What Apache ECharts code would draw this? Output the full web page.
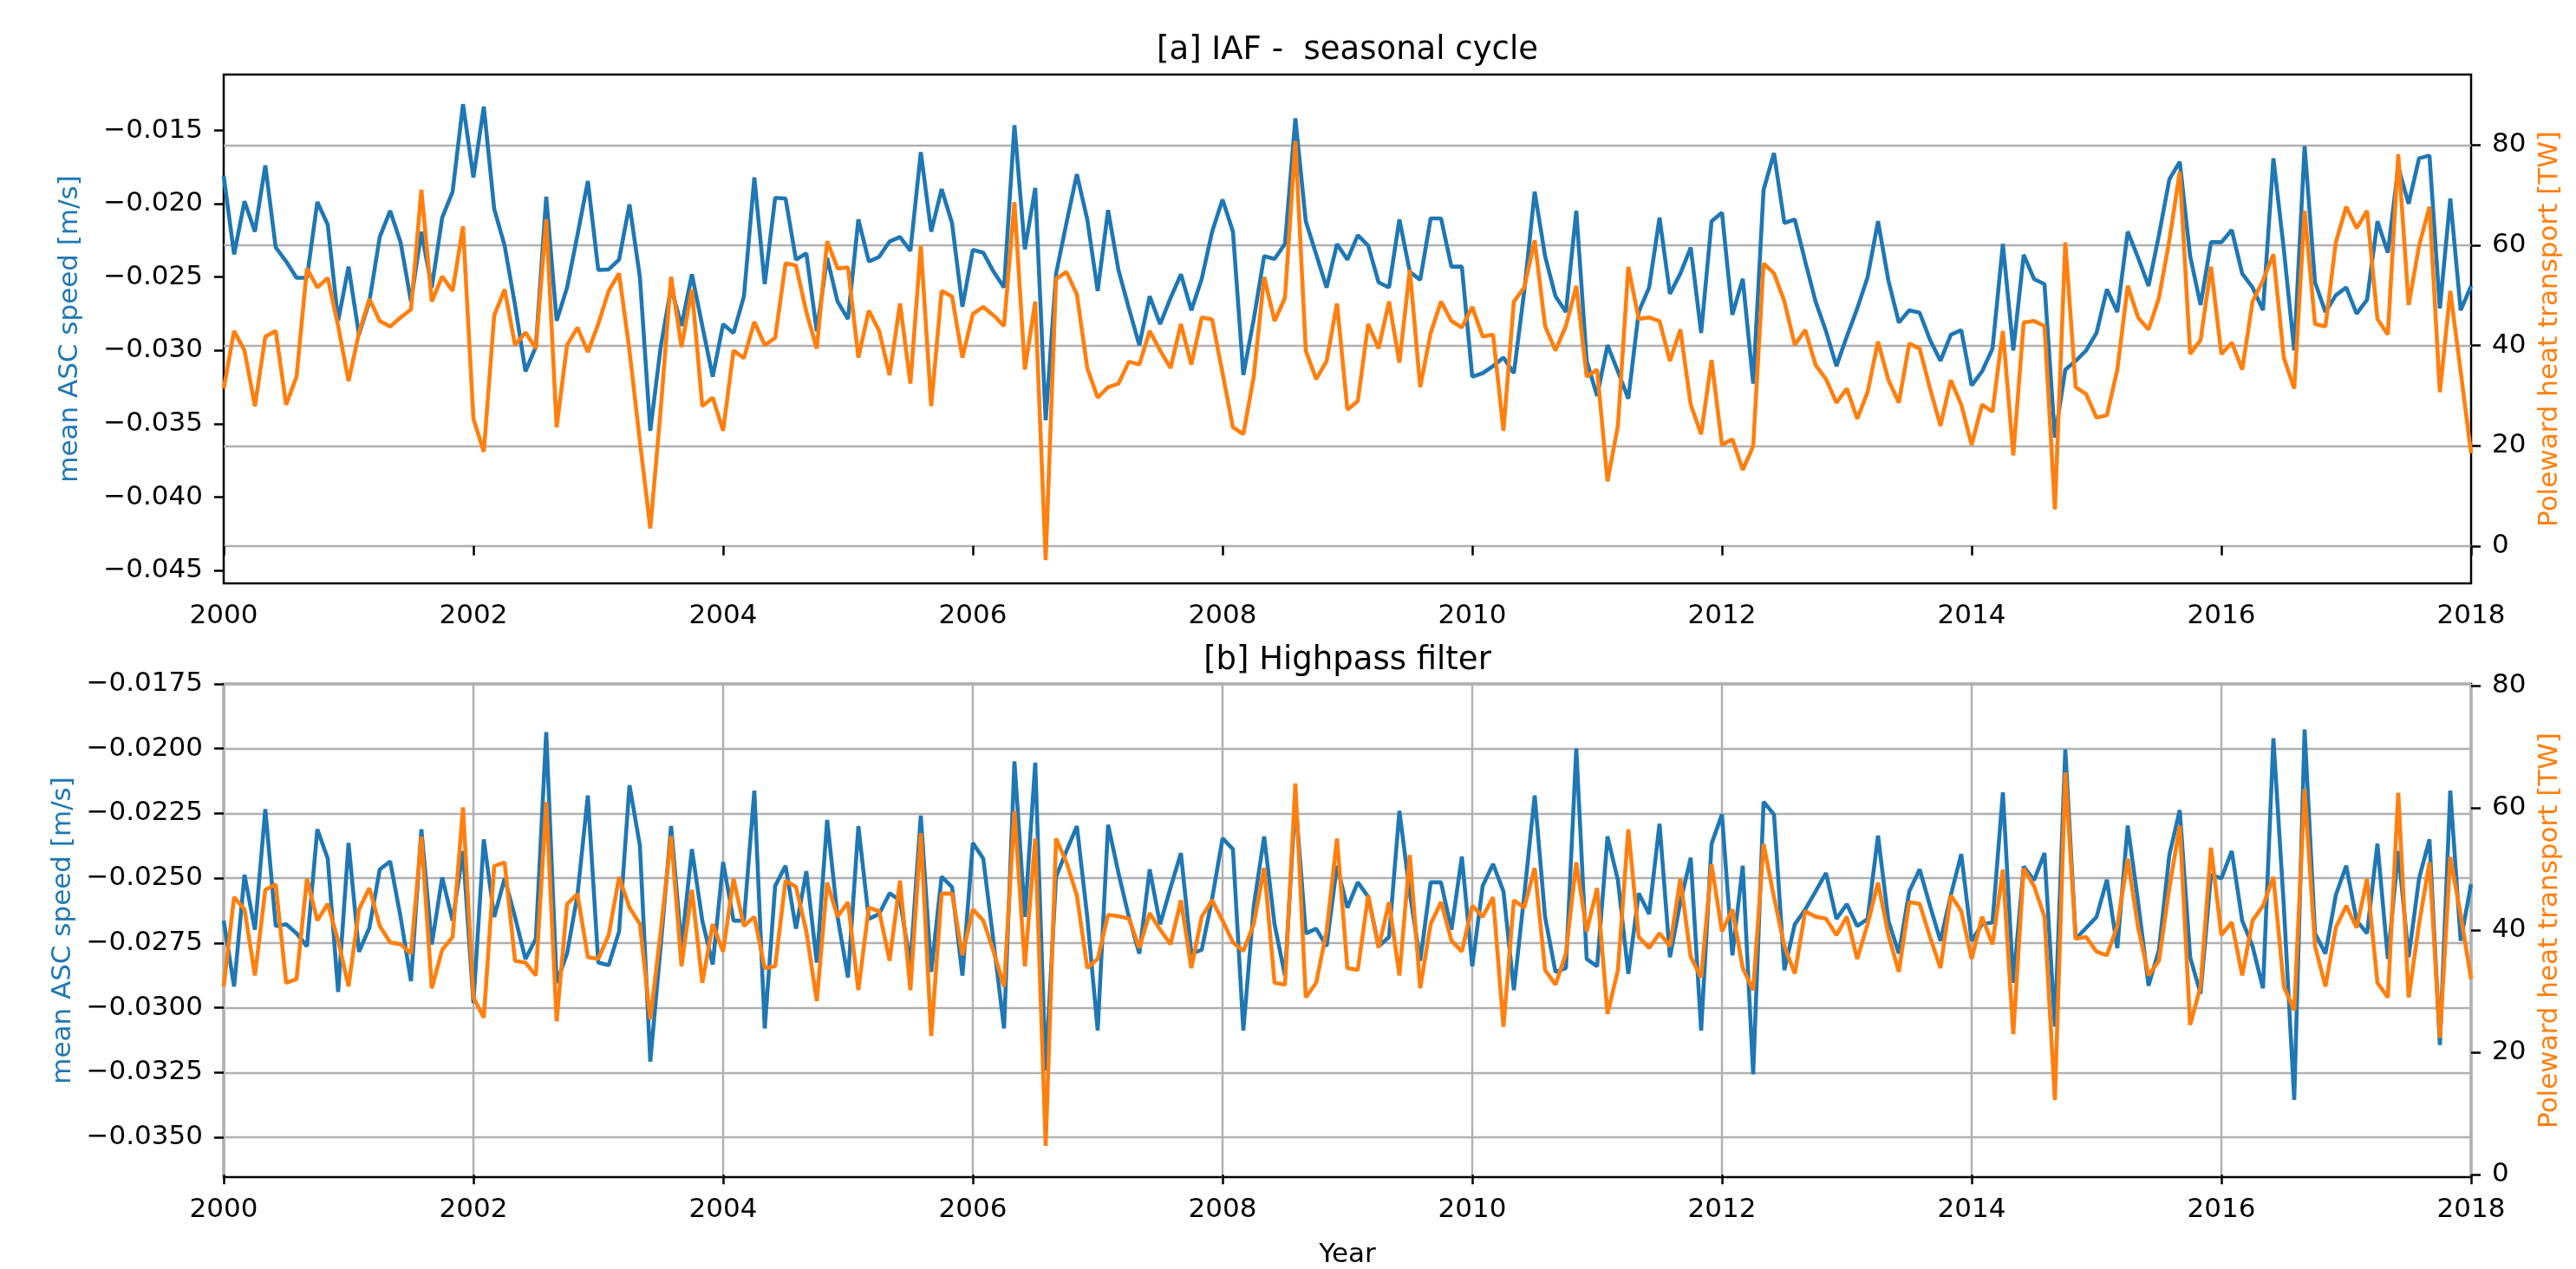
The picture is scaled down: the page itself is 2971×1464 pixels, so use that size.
<!DOCTYPE html>
<html>
<head>
<meta charset="utf-8">
<script src="https://cdn.jsdelivr.net/npm/echarts@6/dist/echarts.min.js"></script>
<style>
  html, body { margin: 0; padding: 0; background: #fff; }
  #chart { width: 2971px; height: 1464px; }
</style>
</head>
<body>
<div id="chart"></div>
<script>
// monthly samples, Jan 2000 .. Jan 2018
const years = Array.from({ length: 217 }, (_, i) => 2000 + i / 12)

// [a] IAF - seasonal cycle
const ascA = [
  -0.01810,-0.02345,-0.01983,-0.02190,-0.01738,-0.02298,-0.02393,-0.02505,-0.02505,-0.01988,
  -0.02143,-0.02798,-0.02429,-0.02893,-0.02667,-0.02226,-0.02048,-0.02262,-0.02667,-0.02190,
  -0.02571,-0.02095,-0.01917,-0.01321,-0.01821,-0.01338,-0.02036,-0.02286,-0.02690,-0.03143,
  -0.02976,-0.01952,-0.02798,-0.02571,-0.02214,-0.01845,-0.02452,-0.02448,-0.02381,-0.02005,
  -0.02500,-0.03548,-0.02976,-0.02571,-0.02833,-0.02481,-0.02833,-0.03179,-0.02821,-0.02881,
  -0.02631,-0.01821,-0.02548,-0.01960,-0.01964,-0.02381,-0.02338,-0.02869,-0.02369,-0.02667,
  -0.02786,-0.02107,-0.02393,-0.02362,-0.02257,-0.02226,-0.02321,-0.01648,-0.02190,-0.01900,
  -0.02131,-0.02702,-0.02314,-0.02333,-0.02464,-0.02571,-0.01464,-0.02310,-0.01893,-0.03476,
  -0.02476,-0.02131,-0.01798,-0.02107,-0.02595,-0.02043,-0.02452,-0.02714,-0.02964,-0.02631,
  -0.02821,-0.02643,-0.02481,-0.02726,-0.02512,-0.02190,-0.01971,-0.02190,-0.03167,-0.02786,
  -0.02357,-0.02376,-0.02274,-0.01417,-0.02119,-0.02345,-0.02571,-0.02274,-0.02381,-0.02214,
  -0.02286,-0.02536,-0.02571,-0.02107,-0.02464,-0.02519,-0.02100,-0.02100,-0.02429,-0.02429,
  -0.03179,-0.03155,-0.03107,-0.03048,-0.03155,-0.02595,-0.01917,-0.02357,-0.02631,-0.02738,
  -0.02048,-0.03071,-0.03310,-0.02964,-0.03143,-0.03329,-0.02738,-0.02571,-0.02095,-0.02614,
  -0.02476,-0.02298,-0.02881,-0.02119,-0.02060,-0.02757,-0.02512,-0.03226,-0.01905,-0.01655,
  -0.02131,-0.02107,-0.02393,-0.02667,-0.02869,-0.03107,-0.02905,-0.02714,-0.02500,-0.02119,
  -0.02524,-0.02810,-0.02726,-0.02743,-0.02929,-0.03071,-0.02893,-0.02862,-0.03238,-0.03143,
  -0.02988,-0.02274,-0.03000,-0.02348,-0.02514,-0.02548,-0.03595,-0.03131,-0.03071,-0.03000,
  -0.02881,-0.02583,-0.02738,-0.02190,-0.02369,-0.02560,-0.02214,-0.01833,-0.01714,-0.02357,
  -0.02690,-0.02262,-0.02262,-0.02179,-0.02476,-0.02571,-0.02726,-0.01690,-0.02310,-0.03000,
  -0.01607,-0.02536,-0.02738,-0.02624,-0.02571,-0.02750,-0.02655,-0.02119,-0.02333,-0.01750,
  -0.02000,-0.01690,-0.01671,-0.02714,-0.01964,-0.02726,-0.02560
]
const heatA = [
  31.4,42.9,39.0,27.9,41.8,42.9,28.2,33.8,55.4,51.6,
  53.5,43.9,32.9,42.5,49.3,44.9,43.8,45.6,47.2,71.1,
  48.8,53.8,50.9,63.8,25.4,18.8,46.0,51.2,40.1,42.6,
  39.4,65.2,23.7,40.1,43.6,38.7,44.3,50.9,54.4,39.0,
  20.9,3.5,27.2,53.7,39.7,51.2,27.9,29.6,23.0,39.0,
  37.5,44.7,40.1,41.5,56.4,56.0,46.7,39.4,60.8,55.4,
  55.6,37.6,47.0,42.9,34.1,48.4,32.4,59.9,27.9,50.9,
  49.8,37.6,46.3,47.7,46.0,43.9,68.6,35.2,48.8,-2.8,
  53.3,54.7,50.2,35.5,29.6,31.7,32.4,36.8,36.2,42.9,
  39.0,35.5,44.3,36.2,45.6,45.2,34.5,23.7,22.3,33.8,
  53.7,44.9,49.5,80.8,39.0,33.3,36.9,48.4,27.2,28.9,
  44.3,39.4,48.8,36.6,55.1,31.7,42.5,48.8,44.9,43.6,
  47.7,41.8,42.2,23.0,48.8,51.6,61.0,43.9,39.0,43.9,
  51.9,33.8,35.2,12.9,24.0,55.7,45.3,45.6,44.9,36.9,
  43.2,28.2,22.3,37.1,20.2,21.3,15.2,19.9,56.4,54.4,
  48.8,40.1,43.1,36.1,33.3,28.6,31.4,25.4,30.7,40.8,
  33.1,28.6,40.4,39.4,31.4,24.0,33.1,28.2,20.2,28.2,
  26.8,42.9,18.1,44.6,44.9,43.9,7.3,60.6,31.7,30.3,
  25.6,26.1,35.2,51.9,45.6,43.2,49.5,61.0,74.7,38.3,
  41.1,55.7,38.3,40.6,35.2,48.8,53.0,58.2,37.6,31.4,
  66.9,44.3,43.8,60.6,67.7,63.4,66.9,45.3,42.2,78.2,
  48.1,59.9,67.7,30.7,50.9,34.8,18.5
]

// [b] Highpass filter
const ascB = [
  -0.02664,-0.02918,-0.02487,-0.02699,-0.02233,-0.02685,-0.02678,-0.02713,-0.02763,-0.02311,
  -0.02424,-0.02939,-0.02364,-0.02784,-0.02692,-0.02466,-0.02435,-0.02650,-0.02897,-0.02311,
  -0.02756,-0.02497,-0.02664,-0.02395,-0.02982,-0.02350,-0.02650,-0.02501,-0.02650,-0.02812,
  -0.02734,-0.01936,-0.02904,-0.02791,-0.02565,-0.02181,-0.02826,-0.02836,-0.02706,-0.02141,
  -0.02374,-0.03208,-0.02763,-0.02299,-0.02763,-0.02388,-0.02664,-0.02833,-0.02438,-0.02664,
  -0.02664,-0.02162,-0.03080,-0.02530,-0.02452,-0.02695,-0.02473,-0.02826,-0.02275,-0.02650,
  -0.02883,-0.02299,-0.02657,-0.02638,-0.02558,-0.02586,-0.02833,-0.02258,-0.02862,-0.02494,
  -0.02534,-0.02876,-0.02364,-0.02424,-0.02749,-0.03080,-0.02049,-0.02650,-0.02054,-0.03243,
  -0.02494,-0.02395,-0.02299,-0.02650,-0.03088,-0.02294,-0.02480,-0.02650,-0.02791,-0.02466,
  -0.02678,-0.02537,-0.02403,-0.02791,-0.02777,-0.02579,-0.02346,-0.02388,-0.03088,-0.02607,
  -0.02339,-0.02678,-0.02876,-0.02198,-0.02713,-0.02695,-0.02763,-0.02452,-0.02614,-0.02516,
  -0.02572,-0.02763,-0.02727,-0.02240,-0.02558,-0.02819,-0.02516,-0.02516,-0.02699,-0.02417,
  -0.02840,-0.02530,-0.02445,-0.02551,-0.02932,-0.02565,-0.02181,-0.02650,-0.02862,-0.02847,
  -0.02000,-0.02812,-0.02840,-0.02339,-0.02508,-0.02869,-0.02558,-0.02638,-0.02290,-0.02805,
  -0.02593,-0.02421,-0.03088,-0.02367,-0.02254,-0.02798,-0.02452,-0.03257,-0.02205,-0.02254,
  -0.02855,-0.02678,-0.02621,-0.02551,-0.02480,-0.02657,-0.02600,-0.02685,-0.02657,-0.02336,
  -0.02664,-0.02791,-0.02551,-0.02466,-0.02607,-0.02742,-0.02565,-0.02407,-0.02742,-0.02678,
  -0.02671,-0.02169,-0.02904,-0.02455,-0.02508,-0.02403,-0.03073,-0.02003,-0.02734,-0.02692,
  -0.02650,-0.02506,-0.02770,-0.02297,-0.02593,-0.02915,-0.02777,-0.02410,-0.02237,-0.02805,
  -0.02946,-0.02487,-0.02501,-0.02395,-0.02664,-0.02763,-0.02925,-0.01960,-0.02607,-0.03356,
  -0.01926,-0.02713,-0.02791,-0.02565,-0.02452,-0.02664,-0.02713,-0.02367,-0.02812,-0.02395,
  -0.02805,-0.02501,-0.02350,-0.03144,-0.02162,-0.02742,-0.02523
]
const heatB = [
  30.8,45.4,43.4,32.6,46.6,47.5,31.4,32.0,48.4,41.6,
  44.3,38.3,30.8,43.4,46.9,40.7,38.0,37.7,36.2,55.3,
  30.5,36.8,38.9,60.1,29.0,25.7,50.5,51.1,35.0,34.7,
  32.6,61.0,25.1,44.3,45.9,35.6,35.3,39.2,48.7,43.7,
  41.0,25.4,39.8,55.4,34.1,46.6,31.4,41.0,36.5,48.4,
  40.7,42.2,33.8,34.1,48.1,47.1,39.8,28.4,47.8,42.2,
  44.6,30.2,43.7,43.1,35.0,48.1,30.2,55.9,22.7,46.0,
  46.0,35.9,43.4,41.6,36.5,30.8,59.5,34.1,55.0,4.7,
  55.0,51.1,45.7,33.8,35.3,42.5,42.3,41.9,37.1,42.8,
  40.1,37.7,44.9,33.8,42.2,44.9,41.6,38.0,36.6,41.0,
  50.2,31.4,31.1,64.0,29.0,31.4,39.8,55.0,33.8,33.5,
  45.7,37.1,44.6,32.6,52.3,30.5,41.0,44.6,38.3,36.5,
  44.0,42.2,45.4,24.2,44.9,43.7,50.2,33.5,31.1,36.2,
  51.1,39.8,46.9,26.3,33.5,56.5,38.9,37.1,39.5,37.4,
  48.4,35.6,32.3,50.8,39.8,43.4,33.8,30.2,54.1,45.4,
  37.4,32.9,43.1,42.2,41.9,39.2,42.2,35.3,41.0,47.8,
  39.2,33.2,44.6,44.3,38.9,33.8,45.7,43.1,35.3,42.2,
  37.7,49.9,23.0,50.1,47.2,42.2,12.2,65.8,38.6,38.9,
  36.5,35.9,40.7,51.7,40.4,32.6,35.0,46.9,57.1,24.5,
  30.8,53.5,39.2,41.3,32.6,41.6,44.0,48.7,30.8,26.9,
  63.1,37.4,30.8,40.4,44.0,40.4,48.4,31.4,29.0,62.5,
  29.0,41.0,51.1,22.4,52.0,42.5,32.0
]

// tick labels
const ticksLeftA = [-0.045, -0.040, -0.035, -0.030, -0.025, -0.020, -0.015]
const ticksLeftB = [-0.035, -0.0325, -0.030, -0.0275, -0.025, -0.0225, -0.020, -0.0175]
const ticksRight = [0, 20, 40, 60, 80]

const BLUE = '#1f77b4'
const ORANGE = '#ff7f0e'
const GRID = '#b0b0b0'
const FONT = 'DejaVu Sans'

const minus = (s) => s.replace('-', '\u2212')
const pairs = (ys) => ys.map((v, i) => [years[i], v])

const tick = { show: true, inside: false, length: 11, lineStyle: { color: '#000', width: 2.5 } }
const label = { color: '#000', fontFamily: FONT, fontSize: 31 }

function xAxis(gridIndex, withGrid) {
  return {
    type: 'value', gridIndex: gridIndex, min: 2000, max: 2018, interval: 2,
    axisLine: { show: false },
    axisTick: tick,
    axisLabel: Object.assign({ margin: 22, formatter: (v) => String(v) }, label),
    splitLine: { show: withGrid, lineStyle: { color: GRID, width: 2.4 } },
    name: gridIndex === 1 ? 'Year' : '',
    nameLocation: 'middle', nameGap: 74,
    nameTextStyle: { color: '#000', fontFamily: FONT, fontSize: 31 }
  }
}

function yAxis(gridIndex, side, min, max, ticks, digits, withGrid, name, color, gap) {
  return {
    type: 'value', gridIndex: gridIndex, position: side, min: min, max: max,
    axisLine: { show: false },
    axisTick: Object.assign({ customValues: ticks }, tick),
    axisLabel: Object.assign({
      customValues: ticks, margin: 24,
      formatter: (v) => digits ? minus(v.toFixed(digits)) : String(v)
    }, label),
    splitLine: { show: withGrid, lineStyle: { color: GRID, width: 2.4 } },
    name: name, nameLocation: 'middle', nameRotate: 90, nameGap: gap,
    nameTextStyle: { color: color, fontFamily: FONT, fontSize: 31 }
  }
}

function line(xi, yi, ys, color) {
  return {
    type: 'line', xAxisIndex: xi, yAxisIndex: yi, data: pairs(ys),
    showSymbol: false, symbol: 'none',
    lineStyle: { color: color, width: 4.6 }, itemStyle: { color: color }
  }
}

const chart = echarts.init(document.getElementById('chart'), null, { renderer: 'canvas' })
chart.setOption({
  animation: false,
  backgroundColor: '#fff',
  grid: [
    { left: 258, top: 86, width: 2592, height: 587, show: true, borderColor: '#000', borderWidth: 2.5, backgroundColor: 'transparent' },
    { left: 258, top: 789, width: 2592, height: 585, show: true, borderColor: '#000', borderWidth: 2.5, backgroundColor: 'transparent' }
  ],
  xAxis: [xAxis(0, false), xAxis(1, true)],
  yAxis: [
    yAxis(0, 'left', -0.045881, -0.011190, ticksLeftA, 3, false, 'mean ASC speed [m/s]', BLUE, 162),
    yAxis(0, 'right', -7.46, 94.08, ticksRight, 0, true, 'Poleward heat transport [TW]', ORANGE, 75),
    yAxis(1, 'left', -0.03654, -0.0175, ticksLeftB, 4, true, 'mean ASC speed [m/s]', BLUE, 162),
    yAxis(1, 'right', -0.4, 80.3, ticksRight, 0, false, 'Poleward heat transport [TW]', ORANGE, 75)
  ],
  graphic: [
    { type: 'text', x: 1554, y: 58, style: { text: '[a] IAF -  seasonal cycle', fill: '#000', font: '37px "DejaVu Sans"', textAlign: 'center', textVerticalAlign: 'middle' } },
    { type: 'text', x: 1554, y: 762, style: { text: '[b] Highpass filter', fill: '#000', font: '37px "DejaVu Sans"', textAlign: 'center', textVerticalAlign: 'middle' } }
  ],
  series: [
    line(0, 0, ascA, BLUE),
    line(0, 1, heatA, ORANGE),
    line(1, 2, ascB, BLUE),
    line(1, 3, heatB, ORANGE)
  ]
})
</script>
</body>
</html>
